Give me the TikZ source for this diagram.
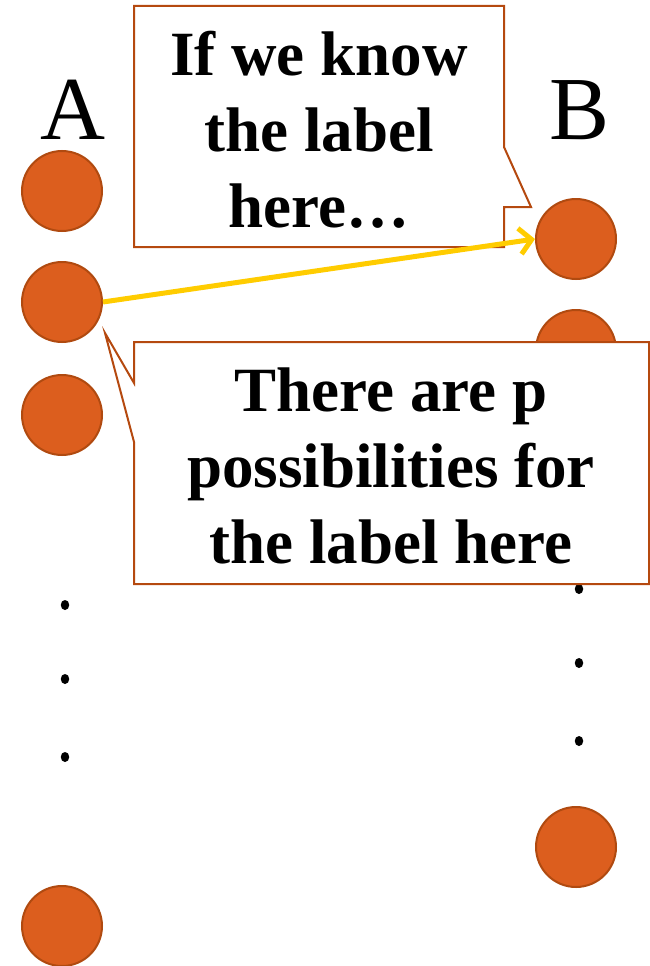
\documentclass[tikz,border=0pt]{standalone}
\usepackage{fontspec}
\setmainfont{Liberation Serif}
\usetikzlibrary{arrows.meta}
\definecolor{dotfill}{HTML}{DC5E1E}
\definecolor{dotedge}{HTML}{B04A10}
\definecolor{calloutedge}{HTML}{B5490F}
\definecolor{arrowyellow}{HTML}{FFCC00}
\tikzset{
  vertex/.style={circle, minimum size=80pt, inner sep=0pt, fill=dotfill, draw=dotedge, line width=2pt},
  ellip/.style={ellipse, fill=black, inner sep=0pt, minimum width=8.5pt, minimum height=10pt},
  callout/.style={draw=calloutedge, fill=white, line width=2pt, line join=miter},
  callouttext/.style={align=center, inner sep=0pt, font=\bfseries\fontsize{63}{76}\selectfont},
  setlabel/.style={inner sep=0pt, anchor=base, font=\fontsize{90}{90}\selectfont},
  pointer/.style={draw=arrowyellow, line width=5pt, -{Straight Barb[length=12pt, width=26pt, line width=5pt]}}
}
\usetikzlibrary{shapes.geometric}
\begin{document}
\begin{tikzpicture}[x=1pt, y=-1pt]
\useasboundingbox (0,0) rectangle (650,966);

% set names
\node[setlabel] (labA) at (73,139) {A};
\node[setlabel] (labB) at (580,139) {B};

% vertices of set A
\node[vertex] (a1) at (62,191) {};
\node[vertex] (a2) at (62,302) {};
\node[vertex] (a3) at (62,415) {};
\node[vertex] (an) at (62,926) {};

% vertices of set B
\node[vertex] (b1) at (576,239) {};
\node[vertex] (b2) at (576,350) {};
\node[vertex] (bn) at (576,847) {};

% vertical ellipses
\node[ellip] (ea1) at (65,605) {};
\node[ellip] (ea2) at (65,679) {};
\node[ellip] (ea3) at (65,757) {};
\node[ellip] (eb1) at (579,589) {};
\node[ellip] (eb2) at (579,663) {};
\node[ellip] (eb3) at (579,741) {};

% upper callout, tail to the right
\path[callout] (134,6) -- (504,6) -- (504,147) -- (531,207) -- (504,207)
  -- (504,247) -- (134,247) -- cycle;
\node[callouttext] (know) at (319,130) {If we know\\the label\\here\ldots};

% lower callout, tail pointing at a2
\path[callout] (134,342) -- (649,342) -- (649,584) -- (134,584) -- (134,442)
  -- (105,333) -- (134,383) -- cycle;
\node[callouttext] (poss) at (391,466) {There are p\\possibilities for\\the label here};

% the known edge
\draw[pointer] (a2.east) -- (b1.west);
\end{tikzpicture}
\end{document}
